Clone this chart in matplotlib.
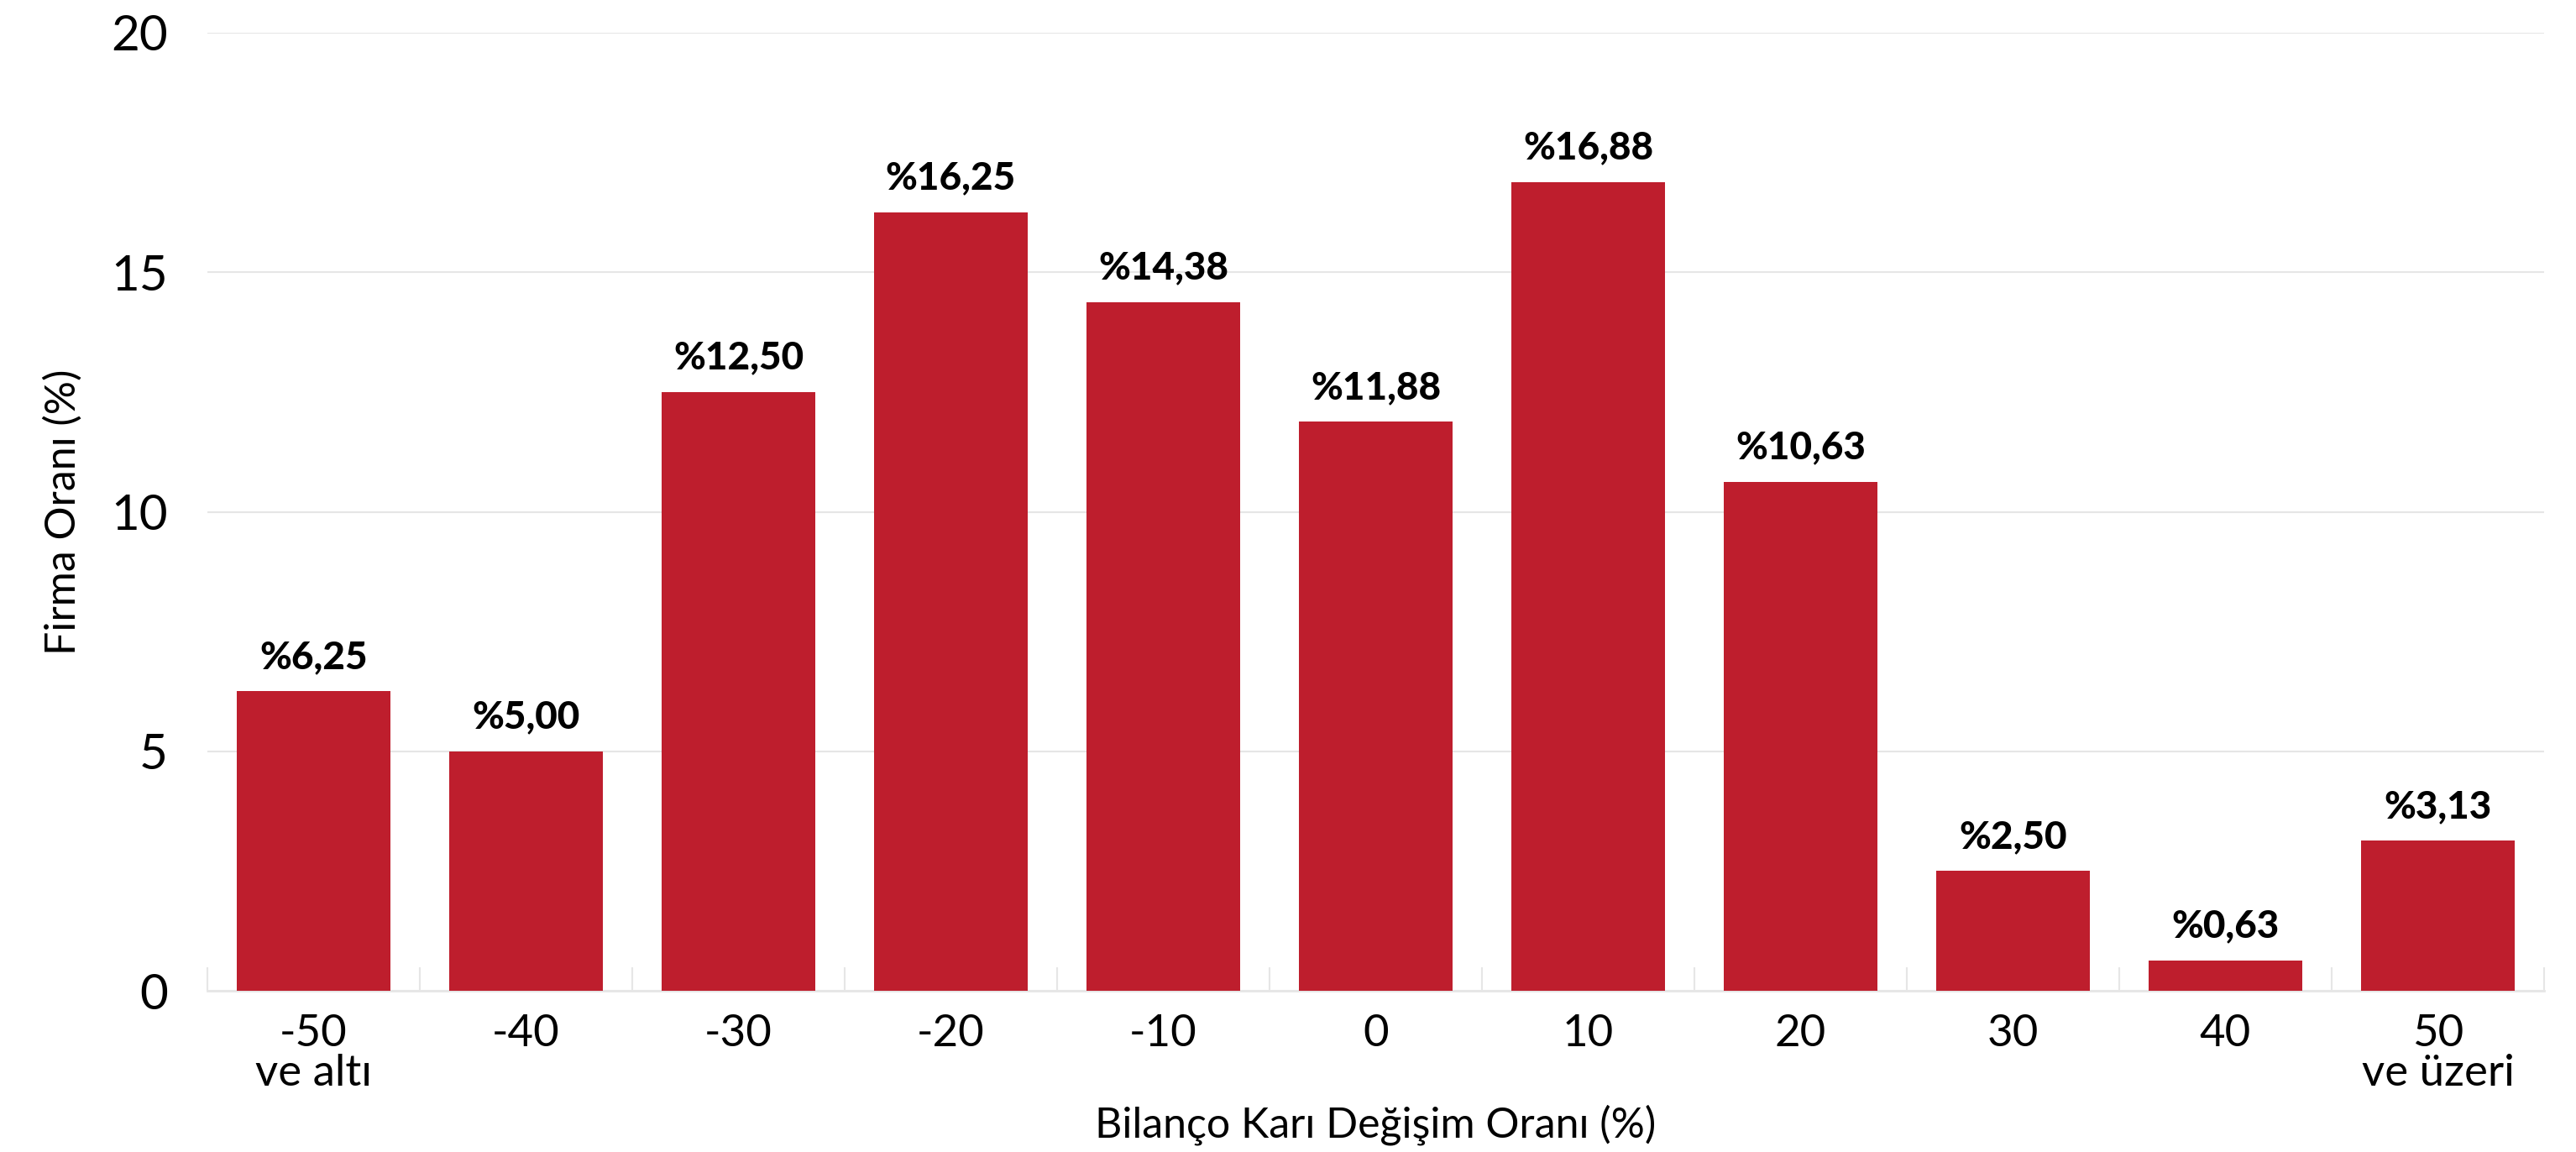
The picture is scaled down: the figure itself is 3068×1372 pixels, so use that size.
from matplotlib import pyplot as plt
import numpy as np

plt.rcParams['font.family'] = ['Lato', 'DejaVu Sans']

# data
categories = ['-50\nve altı', '-40', '-30', '-20', '-10', '0', '10', '20', '30', '40', '50\nve üzeri']
firma_orani = [6.25, 5.00, 12.50, 16.25, 14.38, 11.88, 16.88, 10.63, 2.50, 0.63, 3.13]
y_ticks = [0, 5, 10, 15, 20]

bar_color = '#BE1E2D'
grid_color = '#E6E6E6'

fig = plt.figure(figsize=(30.68, 13.72), dpi=100)
ax = fig.add_axes([247/3068, 1-1180/1372, (3030-247)/3068, (1180-39)/1372])

x = np.arange(len(categories))
bars = ax.bar(x, firma_orani, width=0.72, color=bar_color, zorder=3)

for xi, v in zip(x, firma_orani):
    lab = '%' + f'{v:.2f}'.replace('.', ',')
    ax.annotate(lab, (xi, v), xytext=(0, 14), textcoords='offset points',
                ha='center', va='bottom', fontsize=33, fontweight='black')

ax.set_xlim(-0.5, len(categories) - 0.5)
ax.set_ylim(0, 20)
ax.set_yticks(y_ticks)
ax.set_yticklabels([str(t) for t in y_ticks], fontsize=42)
ax.tick_params(axis='y', length=0, pad=34)

ax.set_xticks(x)
ax.set_xticklabels(categories, fontsize=38, linespacing=1.0)
ax.tick_params(axis='x', which='major', length=0, pad=20)
ax.set_xticks(np.arange(len(categories) + 1) - 0.5, minor=True)
ax.tick_params(axis='x', which='minor', length=20, width=1.5, direction='in', color=grid_color)

ax.grid(axis='y', color=grid_color, linewidth=1.5, zorder=0)
for s in ['left', 'top', 'right']:
    ax.spines[s].set_visible(False)
ax.spines['bottom'].set_color(grid_color)
ax.spines['bottom'].set_linewidth(2)

ax.set_xlabel('Bilanço Karı Değişim Oranı (%)', fontsize=36, labelpad=10)
ax.set_ylabel('Firma Oranı (%)', fontsize=36, labelpad=24)

plt.savefig('out.png', dpi=100)
